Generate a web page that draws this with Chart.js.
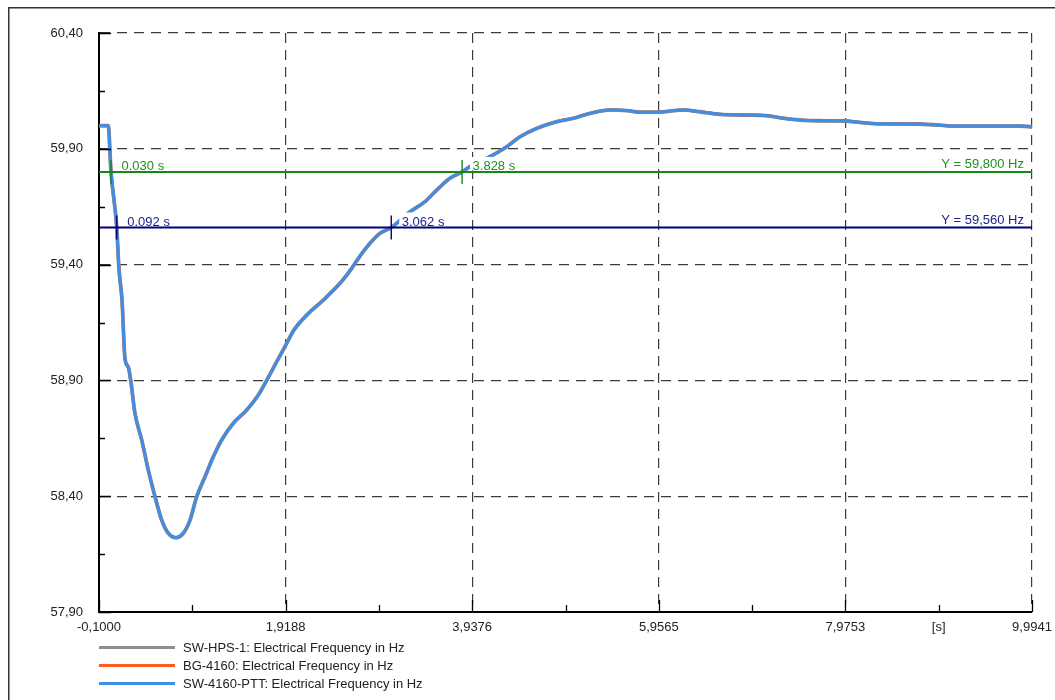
<!DOCTYPE html>
<html>
<head>
<meta charset="utf-8">
<script src="https://cdn.jsdelivr.net/npm/chart.js@4/dist/chart.umd.min.js"></script>
<style>
  html, body { margin: 0; padding: 0; background: #ffffff; }
  canvas { display: block; }
</style>
</head>
<body>
<canvas id="freqChart" width="1055" height="700"></canvas>
<script>
// Simulation time (s) and bus frequency (Hz) after the disturbance
const timeS = [
  -0.100, 0.000, 0.030, 0.092, 0.113, 0.127, 0.149, 0.181, 0.217, 0.243,
  0.289, 0.362, 0.433, 0.506, 0.578, 0.650, 0.733, 0.812, 0.885, 0.957,
  1.047, 1.137, 1.227, 1.353, 1.498, 1.624, 1.714, 1.823, 1.912, 2.010,
  2.147, 2.327, 2.507, 2.634, 2.706, 2.832, 2.940, 3.062, 3.265, 3.427,
  3.553, 3.697, 3.828, 3.914, 4.130, 4.311, 4.455, 4.635, 4.852, 5.032,
  5.212, 5.429, 5.609, 5.753, 5.934, 6.078, 6.222, 6.402, 6.619, 6.871,
  7.124, 7.304, 7.484, 7.736, 7.971, 8.133, 8.350, 8.747, 8.963, 9.143,
  9.576, 9.864, 9.994
];
const freqHz = [
  60.000, 60.000, 59.800, 59.560, 59.400, 59.334, 59.247, 58.995, 58.957, 58.900,
  58.758, 58.643, 58.513, 58.398, 58.297, 58.240, 58.221, 58.240, 58.297, 58.398,
  58.484, 58.571, 58.643, 58.715, 58.772, 58.837, 58.900, 58.981, 59.046, 59.118,
  59.182, 59.247, 59.319, 59.384, 59.427, 59.492, 59.535, 59.560, 59.628, 59.672,
  59.722, 59.773, 59.800, 59.823, 59.866, 59.909, 59.952, 59.988, 60.017, 60.032,
  60.053, 60.068, 60.065, 60.058, 60.058, 60.063, 60.068, 60.060, 60.049, 60.046,
  60.043, 60.032, 60.024, 60.021, 60.020, 60.014, 60.008, 60.007, 60.003, 59.998,
  59.998, 59.998, 59.995
];

const seriesNames = [
  'SW-HPS-1: Electrical Frequency in Hz',
  'BG-4160: Electrical Frequency in Hz',
  'SW-4160-PTT: Electrical Frequency in Hz'
];
const seriesColors = ['#8e8e8e', '#ff5a1f', '#3b8fe8'];

const xTickValues = [-0.1, 1.9188, 3.9376, 5.9565, 7.9753, 9.9941];
const xTickLabels = ['-0,1000', '1,9188', '3,9376', '5,9565', '7,9753', '9,9941'];
const xUnitLabel = '[s]';
const yTickValues = [57.9, 58.4, 58.9, 59.4, 59.9, 60.4];
const yTickLabels = ['57,90', '58,40', '58,90', '59,40', '59,90', '60,40'];

// Frequency thresholds and the times the curve crosses them
const thresholdValues = [59.80, 59.56];
const thresholdLabels = ['Y = 59,800 Hz', 'Y = 59,560 Hz'];
const thresholdLineColors = ['#138a13', '#00007f'];
const thresholdTextColors = ['#1f8f1f', '#1c1c8a'];
const crossingTimes = [[0.030, 3.828], [0.092, 3.062]];
const crossingLabels = [['0.030 s', '3.828 s'], ['0.092 s', '3.062 s']];

const FONT = '13px "Liberation Sans", Arial, sans-serif';
const TEXT = '#222222';
const GRID = '#3c3c3c';

// The unit label sits on the minor tick between the last two major ticks
const unitPos = (xTickValues[4] + xTickValues[5]) / 2;
const xAllTicks = xTickValues.slice(0, 5).concat([unitPos, xTickValues[5]]);
const xAllLabels = xTickLabels.slice(0, 5).concat([xUnitLabel, xTickLabels[5]]);

function midpoints(vals) {
  const out = [];
  for (let i = 0; i < vals.length - 1; i++) out.push((vals[i] + vals[i + 1]) / 2);
  return out;
}

const framePlugin = {
  id: 'frame',
  beforeDraw(chart) {
    const ctx = chart.ctx;
    ctx.save();
    ctx.fillStyle = '#ffffff';
    ctx.fillRect(0, 0, chart.width, chart.height);
    ctx.strokeStyle = '#333333';
    ctx.lineWidth = 1.5;
    ctx.beginPath();
    ctx.moveTo(chart.width, 7.75);
    ctx.lineTo(8.75, 7.75);
    ctx.lineTo(8.75, chart.height);
    ctx.stroke();
    ctx.restore();
  }
};

const tickPlugin = {
  id: 'innerTicks',
  afterDraw(chart) {
    const ctx = chart.ctx;
    const xs = chart.scales.x, ys = chart.scales.y;
    const a = chart.chartArea;
    ctx.save();
    ctx.strokeStyle = '#000000';
    ctx.lineWidth = 1.3;
    ctx.beginPath();
    xTickValues.forEach(v => {
      const px = Math.round(xs.getPixelForValue(v)) + 0.5;
      ctx.moveTo(px, a.bottom); ctx.lineTo(px, a.bottom - 12);
    });
    midpoints(xTickValues).forEach(v => {
      const px = Math.round(xs.getPixelForValue(v)) + 0.5;
      ctx.moveTo(px, a.bottom); ctx.lineTo(px, a.bottom - 7);
    });
    yTickValues.forEach(v => {
      const py = Math.round(ys.getPixelForValue(v)) + 0.5;
      ctx.moveTo(a.left, py); ctx.lineTo(a.left + 12, py);
    });
    midpoints(yTickValues).forEach(v => {
      const py = Math.round(ys.getPixelForValue(v)) + 0.5;
      ctx.moveTo(a.left, py); ctx.lineTo(a.left + 6, py);
    });
    ctx.stroke();
    ctx.restore();
  }
};

const thresholdPlugin = {
  id: 'thresholds',
  afterDatasetsDraw(chart) {
    const ctx = chart.ctx;
    const xs = chart.scales.x, ys = chart.scales.y;
    const a = chart.chartArea;
    ctx.save();
    ctx.font = FONT;
    thresholdValues.forEach((val, k) => {
      const py = ys.getPixelForValue(val);
      // white boxes behind the crossing labels
      crossingTimes[k].forEach((t, j) => {
        const px = xs.getPixelForValue(t);
        const w = ctx.measureText(crossingLabels[k][j]).width;
        ctx.fillStyle = '#ffffff';
        ctx.fillRect(px + 8, py - 15, w + 5, 13.5);
      });
      const rw = ctx.measureText(thresholdLabels[k]).width;
      ctx.fillStyle = '#ffffff';
      ctx.fillRect(a.right - 9 - rw, py - 16, rw + 3, 13);

      // threshold line
      ctx.strokeStyle = thresholdLineColors[k];
      ctx.lineWidth = 2;
      ctx.beginPath();
      ctx.moveTo(a.left, py);
      ctx.lineTo(a.right, py);
      ctx.stroke();

      // crossing markers and labels
      crossingTimes[k].forEach((t, j) => {
        const px = xs.getPixelForValue(t);
        ctx.strokeStyle = thresholdLineColors[k];
        ctx.lineWidth = 1.4;
        ctx.beginPath();
        ctx.moveTo(px, py - 12);
        ctx.lineTo(px, py + 12);
        ctx.stroke();
        ctx.fillStyle = thresholdTextColors[k];
        ctx.textAlign = 'left';
        ctx.textBaseline = 'alphabetic';
        ctx.fillText(crossingLabels[k][j], px + 10.5, py - 1.5);
      });

      ctx.fillStyle = thresholdTextColors[k];
      ctx.textAlign = 'right';
      ctx.textBaseline = 'alphabetic';
      ctx.fillText(thresholdLabels[k], a.right - 8, py - 4);
    });
    ctx.restore();
  }
};

const legendPlugin = {
  id: 'bottomLegend',
  afterDraw(chart) {
    const ctx = chart.ctx;
    const a = chart.chartArea;
    ctx.save();
    ctx.font = FONT;
    ctx.textAlign = 'left';
    ctx.textBaseline = 'middle';
    chart.data.datasets.forEach((ds, i) => {
      const y = 647.5 + i * 18;
      ctx.strokeStyle = ds.borderColor;
      ctx.lineWidth = 3;
      ctx.beginPath();
      ctx.moveTo(a.left, y);
      ctx.lineTo(a.left + 76, y);
      ctx.stroke();
      ctx.fillStyle = TEXT;
      ctx.fillText(ds.label, a.left + 84, y + 0.5);
    });
    ctx.restore();
  }
};

new Chart(document.getElementById('freqChart'), {
  type: 'line',
  data: {
    datasets: seriesNames.map((name, i) => ({
      label: name,
      data: timeS.map((t, k) => ({ x: t, y: freqHz[k] })),
      borderColor: seriesColors[i],
      borderWidth: i === 0 ? 3.8 : 3,
      pointRadius: 0,
      fill: false,
      cubicInterpolationMode: 'monotone',
      // later series are painted over earlier ones
      order: seriesNames.length - 1 - i
    }))
  },
  options: {
    responsive: false,
    animation: false,
    devicePixelRatio: 1,
    layout: { padding: { left: 0, top: 33, right: 23, bottom: 0 } },
    plugins: { legend: { display: false }, tooltip: { enabled: false }, title: { display: false } },
    scales: {
      x: {
        type: 'linear',
        min: xTickValues[0],
        max: xTickValues[xTickValues.length - 1],
        afterBuildTicks: s => { s.ticks = xAllTicks.map(v => ({ value: v })); },
        afterFit: s => { s.height = 88; s.paddingLeft = 0; s.paddingRight = 0; },
        ticks: {
          autoSkip: false, maxRotation: 0, minRotation: 0, padding: 8,
          color: TEXT, font: { family: '"Liberation Sans", Arial, sans-serif', size: 13 },
          callback: (v, i) => xAllLabels[i]
        },
        grid: {
          drawTicks: false,
          lineWidth: 1.2,
          color: c => (c.tick && c.tick.value === unitPos) ? 'rgba(0,0,0,0)' : GRID
        },
        border: { display: true, color: '#000000', width: 2, dash: [10, 7] }
      },
      y: {
        type: 'linear',
        min: yTickValues[0],
        max: yTickValues[yTickValues.length - 1],
        afterBuildTicks: s => { s.ticks = yTickValues.map(v => ({ value: v })); },
        afterFit: s => { s.width = 99; s.paddingTop = 0; s.paddingBottom = 0; },
        ticks: {
          padding: 16, color: TEXT,
          font: { family: '"Liberation Sans", Arial, sans-serif', size: 13 },
          callback: (v, i) => yTickLabels[i]
        },
        grid: { drawTicks: false, lineWidth: 1.2, color: GRID },
        border: { display: true, color: '#000000', width: 2, dash: [10, 7] }
      }
    }
  },
  plugins: [framePlugin, tickPlugin, thresholdPlugin, legendPlugin]
});
</script>
</body>
</html>
